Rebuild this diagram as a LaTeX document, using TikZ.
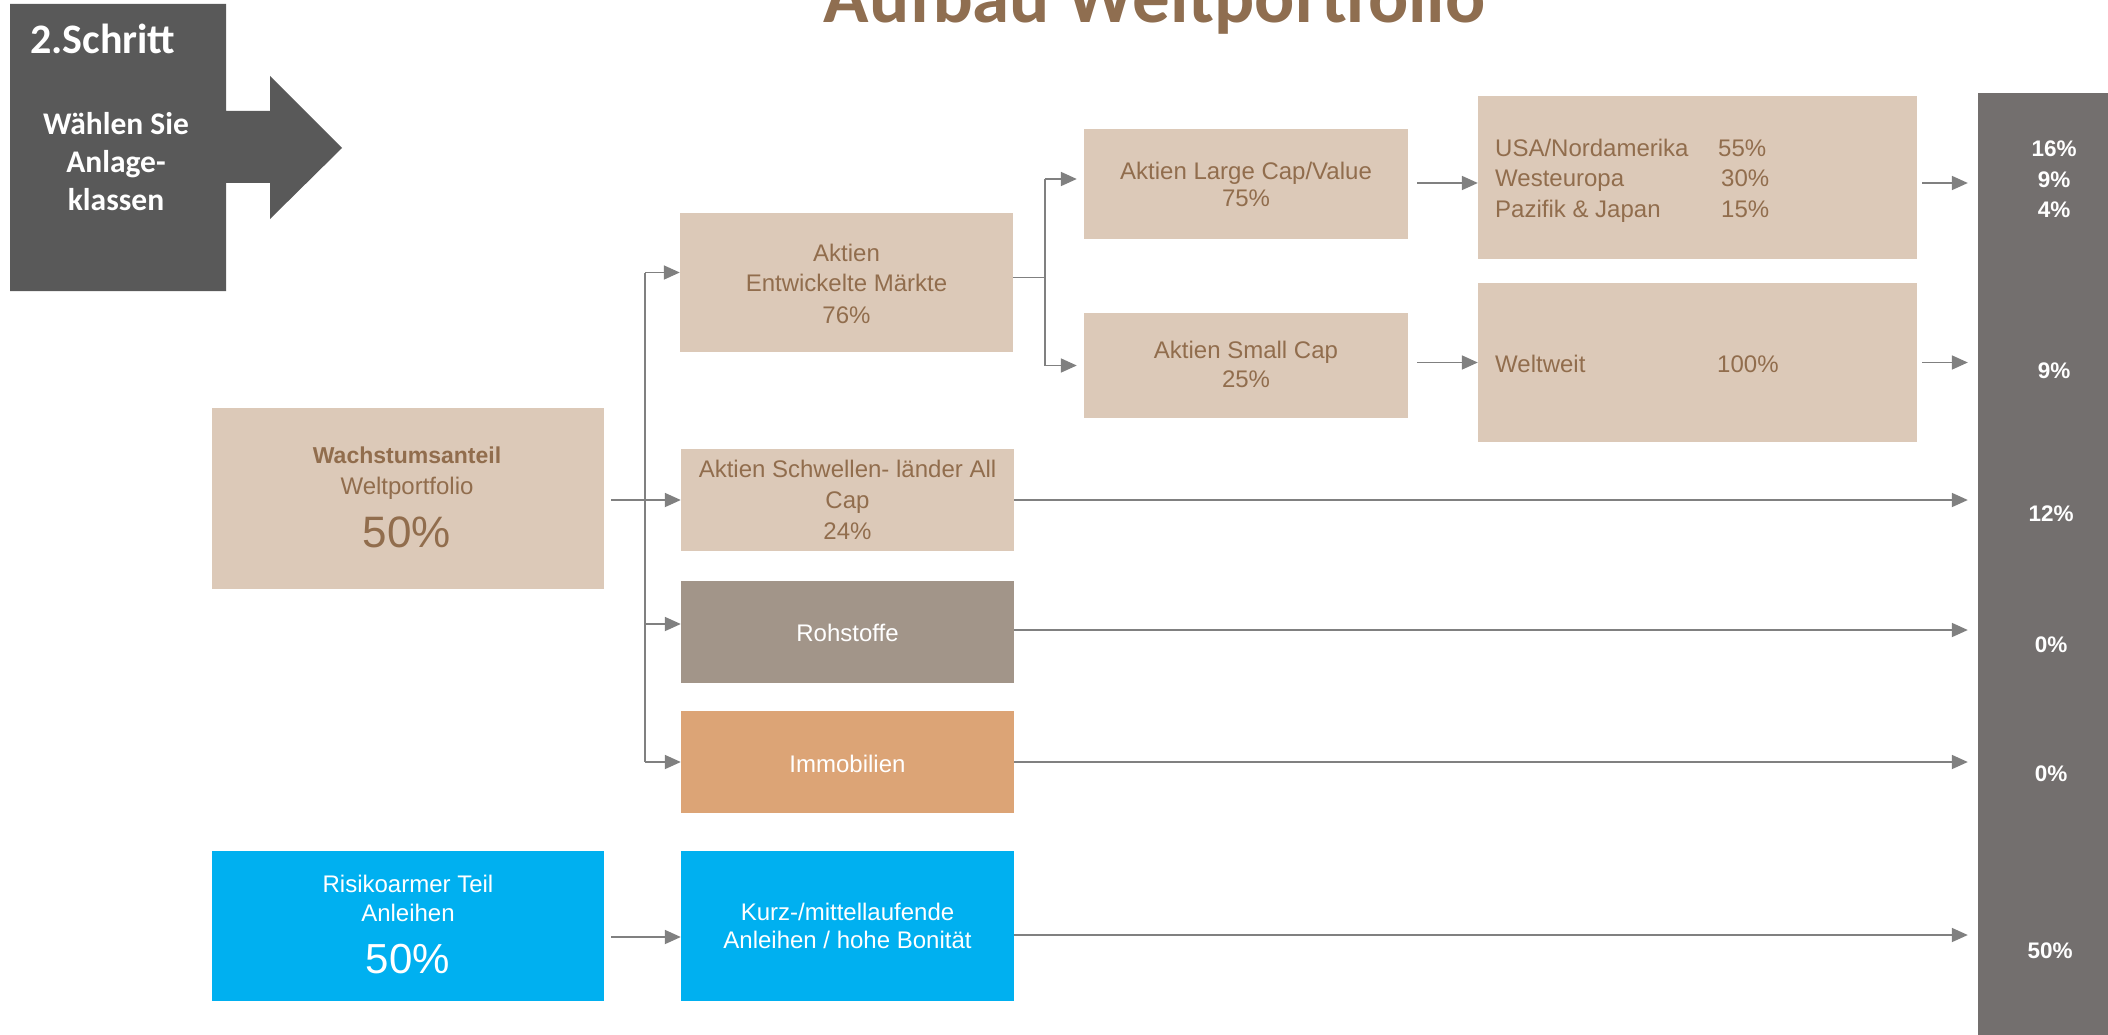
\documentclass[tikz,border=0pt]{standalone}
\usepackage{fontspec}
\setmainfont{Liberation Sans}
\newfontfamily\calib{Carlito}
\usetikzlibrary{arrows.meta}
\definecolor{beige}{RGB}{220,201,184}
\definecolor{brownT}{RGB}{145,109,77}
\definecolor{titlebrown}{RGB}{143,110,80}
\definecolor{rohc}{RGB}{162,149,137}
\definecolor{immoc}{RGB}{220,164,118}
\definecolor{bluec}{RGB}{0,176,240}
\definecolor{barc}{RGB}{115,111,110}
\definecolor{stepgray}{RGB}{89,89,89}
\definecolor{conngray}{RGB}{128,128,128}
\newcommand\myfs[1]{\fontsize{#1}{#1}\selectfont}
\tikzset{
  box/.style={rectangle, inner sep=0pt, draw=none},
  txt/.style={anchor=base, inner sep=0pt, text=brownT, font=\myfs{24}},
  wtxt/.style={anchor=base, inner sep=0pt, text=white, font=\myfs{24}},
  pct/.style={anchor=base, inner sep=0pt, text=white, font=\bfseries\myfs{22.5}},
  steptxt/.style={anchor=base, inner sep=0pt, text=white, font=\calib\bfseries\myfs{31.5}},
  line/.style={draw=conngray, line width=1.8pt},
  conn/.style={line, -{Triangle[length=16pt,width=14pt]}},
}
\begin{document}
\begin{tikzpicture}[x=1pt,y=-1pt]
\useasboundingbox (0,0) rectangle (2108,1035);
\fill[white] (0,0) rectangle (2108,1035);

% step shape
\fill[stepgray] (10,4) -- (226,4) -- (226,111) -- (270,111) -- (270,76) -- (342,148)
  -- (270,219) -- (270,183) -- (226,183) -- (226,291) -- (10,291) -- cycle;
\node[anchor=base west, inner sep=0pt, text=white, font=\calib\bfseries\myfs{42}] (step) at (30,54) {2.Schritt};
\node[steptxt] (s1) at (116,135) {Wählen Sie};
\node[steptxt] (s2) at (116,173) {Anlage-};
\node[steptxt] (s3) at (116,211) {klassen};

% title
\node[anchor=base, inner sep=0pt, text=titlebrown, font=\calib\bfseries\myfs{75}] (title) at (1154.5,23) {Aufbau Weltportfolio};

% boxes
\node[box, fill=beige, minimum width=392pt, minimum height=181pt] (wach) at (408,498.5) {};
\node[box, fill=bluec, minimum width=392pt, minimum height=150pt] (risk) at (408,926) {};
\node[box, fill=beige, minimum width=333pt, minimum height=139pt] (entw) at (846.5,282.5) {};
\node[box, fill=beige, minimum width=333pt, minimum height=102pt] (schw) at (847.5,500) {};
\node[box, fill=rohc, minimum width=333pt, minimum height=102pt] (roh) at (847.5,632) {};
\node[box, fill=immoc, minimum width=333pt, minimum height=102pt] (immo) at (847.5,762) {};
\node[box, fill=bluec, minimum width=333pt, minimum height=150pt] (kurz) at (847.5,926) {};
\node[box, fill=beige, minimum width=324pt, minimum height=110pt] (large) at (1246,184) {};
\node[box, fill=beige, minimum width=324pt, minimum height=105pt] (small) at (1246,365.5) {};
\node[box, fill=beige, minimum width=439pt, minimum height=163pt] (usa) at (1697.5,177.5) {};
\node[box, fill=beige, minimum width=439pt, minimum height=159pt] (welt) at (1697.5,362.5) {};
\node[box, fill=barc, minimum width=130pt, minimum height=942pt] (bar) at (2043,564) {};

% texts
\node[txt, font=\bfseries\myfs{23}] (w1) at (407,463) {Wachstumsanteil};
\node[txt] (w2) at (407,494) {Weltportfolio};
\node[txt, font=\myfs{44}] (w3) at (407,547) {50\%};

\node[wtxt] (r1) at (408,892) {Risikoarmer Teil};
\node[wtxt] (r2) at (408,921) {Anleihen};
\node[wtxt, font=\myfs{42}] (r3) at (408,973) {50\%};

\node[txt] (e1) at (846.5,261) {Aktien};
\node[txt] (e2) at (846.5,291) {Entwickelte Märkte};
\node[txt] (e3) at (846.5,323) {76\%};

\node[txt] (c1) at (847.5,477) {Aktien Schwellen- länder All};
\node[txt] (c2) at (847.5,508) {Cap};
\node[txt] (c3) at (847.5,539) {24\%};

\node[wtxt] (rt) at (847.5,641) {Rohstoffe};
\node[wtxt] (it) at (847.5,772) {Immobilien};

\node[wtxt] (k1) at (847.5,920) {Kurz-/mittellaufende};
\node[wtxt] (k2) at (847.5,948) {Anleihen / hohe Bonität};

\node[txt] (l1) at (1246,179) {Aktien Large Cap/Value};
\node[txt] (l2) at (1246,207) {75\%};
\node[txt] (m1) at (1246,358) {Aktien Small Cap};
\node[txt] (m2) at (1246,387) {25\%};

\node[txt, anchor=base west] (u1) at (1495,157) {USA/Nordamerika};
\node[txt, anchor=base west] (u2) at (1495,186) {Westeuropa};
\node[txt, anchor=base west] (u3) at (1495,217) {Pazifik \& Japan};
\node[txt, anchor=base west] (p1) at (1718,157) {55\%};
\node[txt, anchor=base west] (p2) at (1721,186) {30\%};
\node[txt, anchor=base west] (p3) at (1721,217) {15\%};
\node[txt, anchor=base west] (v1) at (1495,372) {Weltweit};
\node[txt, anchor=base west] (v2) at (1717,372) {100\%};

% percentages on bar
\node[pct] (q1) at (2054,157) {16\%};
\node[pct] (q2) at (2054,187) {9\%};
\node[pct] (q3) at (2054,218) {4\%};
\node[pct] (q4) at (2054,378) {9\%};
\node[pct] (q5) at (2051,521) {12\%};
\node[pct] (q6) at (2051,652) {0\%};
\node[pct] (q7) at (2051,781) {0\%};
\node[pct] (q8) at (2050,958) {50\%};

% connectors
\coordinate (tr) at (645,0);
\coordinate (entwIn) at ([yshift=10pt]entw.west);
\coordinate (rohIn) at ([yshift=8pt]roh.west);
\draw[conn] ([xshift=7pt]wach.east |- schw.west) -- (schw.west);
\draw[line] (tr |- entwIn) -- (tr |- immo.west);
\draw[conn] (tr |- entwIn) -- (entwIn);
\draw[conn] (tr |- rohIn) -- (rohIn);
\draw[conn] (tr |- immo.west) -- (immo.west);

\coordinate (br) at ([yshift=5pt,xshift=32pt]entw.east);
\coordinate (largeIn) at ([yshift=5pt]large.west);
\draw[line] ([yshift=5pt]entw.east) -- (br);
\draw[line] (br |- largeIn) -- (br |- small.west);
\draw[conn, shorten >=7pt] (br |- largeIn) -- (largeIn);
\draw[conn, shorten >=7pt] (br |- small.west) -- (small.west);

\coordinate (usaIn) at ([yshift=-5.5pt]usa.west);
\draw[conn] ([xshift=9pt]large.east |- usaIn) -- (usaIn);
\draw[conn] ([xshift=9pt]small.east |- welt.west) -- (welt.west);

\coordinate (rohOut) at ([yshift=2pt]roh.east);
\coordinate (kurzOut) at ([yshift=-9pt]kurz.east);
\draw[conn, shorten >=10pt] ([xshift=5pt]usa.east |- usaIn) -- (bar.west |- usaIn);
\draw[conn, shorten >=10pt] ([xshift=5pt]welt.east |- welt.west) -- (bar.west |- welt.west);
\draw[conn, shorten >=10pt] (schw.east) -- (bar.west |- schw.east);
\draw[conn, shorten >=10pt] (rohOut) -- (bar.west |- rohOut);
\draw[conn, shorten >=10pt] (immo.east) -- (bar.west |- immo.east);

\coordinate (kurzIn) at ([yshift=-11pt]kurz.west);
\draw[conn] ([xshift=7pt]risk.east |- kurzIn) -- (kurzIn);
\draw[conn, shorten >=10pt] (kurzOut) -- (bar.west |- kurzOut);
\end{tikzpicture}
\end{document}
